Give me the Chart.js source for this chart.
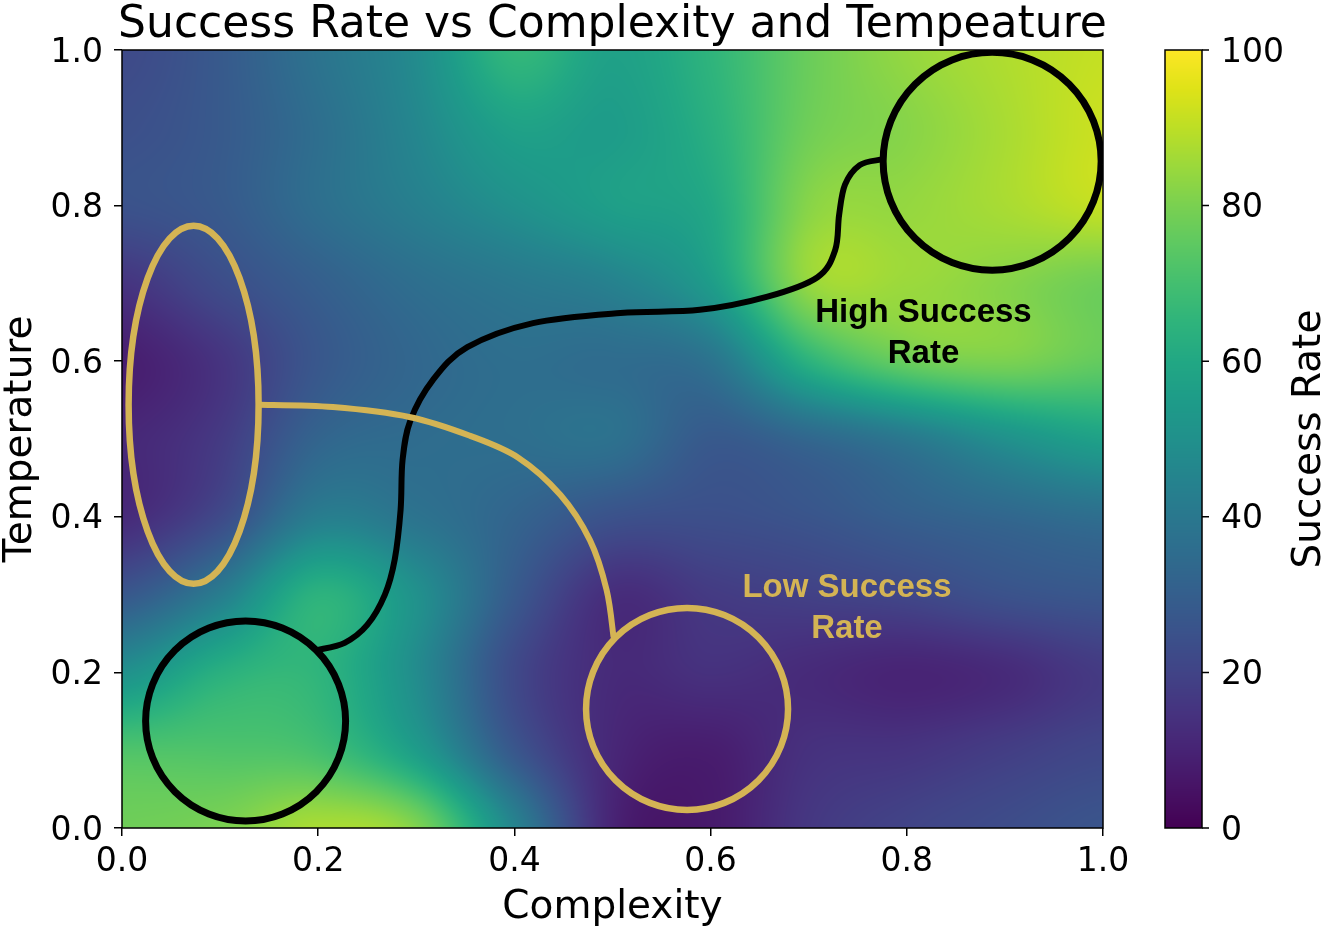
<!DOCTYPE html>
<html lang="en">
<head>
    <meta charset="UTF-8">
    <title>Success Rate vs Complexity and Tempeature</title>
    <script src="https://cdn.jsdelivr.net/npm/chart.js"></script>
    <style>
        html, body { margin: 0; padding: 0; background: #fff; }
        canvas { display: block; }
    </style>
</head>
<body>
    <canvas id="rateMap" width="1327" height="927"></canvas>

    <script>
        // grid of the measured field
        const complexity  = [0, 0.1, 0.2, 0.3, 0.4, 0.5, 0.6, 0.7, 0.8, 0.9, 1.0];
        const temperature = [0, 0.1, 0.2, 0.3, 0.4, 0.5, 0.6, 0.7, 0.8, 0.9, 1.0];
        // success rate (%), one row per temperature, lowest temperature first
        const successRate = [
            [78, 80, 87, 81, 45, 10,  7, 16, 20, 23, 26],
            [72, 72, 70, 55, 27, 11,  8, 14, 15, 18, 21],
            [50, 63, 65, 48, 22, 12, 14, 12, 10, 12, 17],
            [27, 42, 64, 50, 28, 13, 17, 19, 21, 25, 27],
            [12, 22, 42, 38, 32, 25, 24, 26, 30, 33, 36],
            [11, 17, 32, 35, 36, 37, 28, 33, 40, 50, 57],
            [ 8, 15, 27, 33, 36, 35, 38, 64, 77, 80, 76],
            [15, 23, 30, 36, 40, 44, 55, 84, 85, 82, 78],
            [25, 28, 36, 43, 50, 56, 60, 82, 84, 87, 91],
            [24, 28, 36, 46, 57, 55, 63, 78, 82, 87, 92],
            [22, 28, 38, 48, 66, 57, 65, 77, 84, 88, 91]
        ];
        const axisTicks = [0, 0.2, 0.4, 0.6, 0.8, 1.0];
        const rateTicks = [0, 20, 40, 60, 80, 100];

        // callout shapes, anchored in data units
        const blackRings = [{ x: 0.126, y: 0.1375, r: 100 }, { x: 0.887, y: 0.857, r: 109 }];
        const goldRings  = [{ x: 0.576, y: 0.153, rx: 101, ry: 101 }, { x: 0.073, y: 0.544, rx: 65, ry: 179 }];
        const blackPath = [
            [0.200, 0.229], [0.227, 0.238], [0.250, 0.261], [0.268, 0.300], [0.278, 0.345],
            [0.284, 0.409], [0.286, 0.473], [0.294, 0.524], [0.317, 0.576], [0.352, 0.618],
            [0.419, 0.649], [0.508, 0.662], [0.589, 0.666], [0.658, 0.683], [0.709, 0.708],
            [0.727, 0.743], [0.731, 0.788], [0.737, 0.827], [0.752, 0.852], [0.773, 0.859]
        ];
        const goldPath = [
            [0.140, 0.544], [0.215, 0.541], [0.294, 0.528], [0.355, 0.504], [0.404, 0.476],
            [0.447, 0.428], [0.477, 0.370], [0.494, 0.306], [0.501, 0.246]
        ];
        const labels = [
            { x: 0.817, y: 0.636, lines: ['High Success', 'Rate'], color: '#000000' },
            { x: 0.739, y: 0.282, lines: ['Low Success', 'Rate'], color: '#d4b454' }
        ];

        const GOLD = '#d4b454';
        const VIRIDIS = ['#440154', '#471365', '#482475', '#463480', '#414487', '#3b528b', '#355f8d',
            '#2f6c8e', '#2a788e', '#25848e', '#21918c', '#1e9c89', '#22a884', '#2fb47c', '#44bf70',
            '#5ec962', '#7ad151', '#9bd93c', '#bddf26', '#dfe318', '#fde725'].map(h => [
                parseInt(h.slice(1, 3), 16), parseInt(h.slice(3, 5), 16), parseInt(h.slice(5, 7), 16)]);

        function viridis(t) {
            t = Math.min(1, Math.max(0, t)) * (VIRIDIS.length - 1);
            const i = Math.min(VIRIDIS.length - 2, Math.floor(t)), f = t - i;
            const a = VIRIDIS[i], b = VIRIDIS[i + 1];
            return [a[0] + (b[0] - a[0]) * f, a[1] + (b[1] - a[1]) * f, a[2] + (b[2] - a[2]) * f];
        }

        function catmull(p0, p1, p2, p3, t) {
            return p1 + 0.5 * t * (p2 - p0 + t * (2 * p0 - 5 * p1 + 4 * p2 - p3 + t * (3 * (p1 - p2) + p3 - p0)));
        }

        function locate(arr, v) {
            let i = 0;
            while (i < arr.length - 2 && v > arr[i + 1]) i++;
            const t = Math.min(1, Math.max(0, (v - arr[i]) / (arr[i + 1] - arr[i])));
            return { i, t };
        }

        const clampIdx = (i, n) => Math.max(0, Math.min(n - 1, i));

        function sampleRate(cx, ty) {
            const fx = locate(complexity, cx), fy = locate(temperature, ty);
            const nx = complexity.length, ny = temperature.length;
            const r = [];
            for (let k = -1; k <= 2; k++) {
                const row = successRate[clampIdx(fy.i + k, ny)];
                r.push(catmull(row[clampIdx(fx.i - 1, nx)], row[fx.i], row[clampIdx(fx.i + 1, nx)],
                    row[clampIdx(fx.i + 2, nx)], fx.t));
            }
            return catmull(r[0], r[1], r[2], r[3], fy.t);
        }

        const heatmapPlugin = {
            id: 'heatmap',
            beforeDatasetsDraw(chart) {
                const { ctx, chartArea: a, scales: { x, y } } = chart;
                const left = Math.round(a.left), top = Math.round(a.top);
                const w = Math.round(a.right) - left, h = Math.round(a.bottom) - top;
                const img = ctx.createImageData(w, h);
                const xs = [];
                for (let px = 0; px < w; px++) xs.push(x.getValueForPixel(left + px + 0.5));
                for (let py = 0; py < h; py++) {
                    const ty = y.getValueForPixel(top + py + 0.5);
                    for (let px = 0; px < w; px++) {
                        const c = viridis(sampleRate(xs[px], ty) / 100);
                        const o = (py * w + px) * 4;
                        img.data[o] = c[0]; img.data[o + 1] = c[1]; img.data[o + 2] = c[2]; img.data[o + 3] = 255;
                    }
                }
                ctx.putImageData(img, left, top);
            }
        };

        function splinePath(ctx, pts) {
            ctx.beginPath();
            ctx.moveTo(pts[0][0], pts[0][1]);
            for (let i = 0; i < pts.length - 1; i++) {
                const p0 = pts[Math.max(0, i - 1)], p1 = pts[i], p2 = pts[i + 1], p3 = pts[Math.min(pts.length - 1, i + 2)];
                ctx.bezierCurveTo(p1[0] + (p2[0] - p0[0]) / 6, p1[1] + (p2[1] - p0[1]) / 6,
                    p2[0] - (p3[0] - p1[0]) / 6, p2[1] - (p3[1] - p1[1]) / 6, p2[0], p2[1]);
            }
            ctx.stroke();
        }

        const calloutPlugin = {
            id: 'callouts',
            afterDatasetsDraw(chart) {
                const { ctx, chartArea: a, scales: { x, y } } = chart;
                const toPx = p => [x.getPixelForValue(p[0]), y.getPixelForValue(p[1])];
                ctx.save();
                ctx.beginPath();
                ctx.rect(a.left, a.top, a.right - a.left, a.bottom - a.top);
                ctx.clip();
                ctx.lineCap = 'round';
                ctx.lineJoin = 'round';

                ctx.strokeStyle = '#000';
                ctx.lineWidth = 6;
                splinePath(ctx, blackPath.map(toPx));
                ctx.strokeStyle = GOLD;
                splinePath(ctx, goldPath.map(toPx));

                ctx.lineWidth = 7;
                ctx.strokeStyle = '#000';
                blackRings.forEach(c => {
                    ctx.beginPath();
                    ctx.arc(x.getPixelForValue(c.x), y.getPixelForValue(c.y), c.r, 0, Math.PI * 2);
                    ctx.stroke();
                });
                ctx.lineWidth = 6.5;
                ctx.strokeStyle = GOLD;
                goldRings.forEach(c => {
                    ctx.beginPath();
                    ctx.ellipse(x.getPixelForValue(c.x), y.getPixelForValue(c.y), c.rx, c.ry, 0, 0, Math.PI * 2);
                    ctx.stroke();
                });

                ctx.font = 'bold 33px "Liberation Sans", Arial, sans-serif';
                ctx.textAlign = 'center';
                ctx.textBaseline = 'middle';
                labels.forEach(l => {
                    ctx.fillStyle = l.color;
                    const cx = x.getPixelForValue(l.x), cy = y.getPixelForValue(l.y);
                    l.lines.forEach((s, i) => ctx.fillText(s, cx, cy + (i - (l.lines.length - 1) / 2) * 41));
                });
                ctx.restore();
            }
        };

        const framePlugin = {
            id: 'frame',
            afterDraw(chart) {
                const { ctx, chartArea: a, scales: { cb } } = chart;
                ctx.save();
                // plot frame
                ctx.strokeStyle = '#000';
                ctx.lineWidth = 1.5;
                ctx.strokeRect(a.left, a.top, a.right - a.left, a.bottom - a.top);

                // colour bar
                const barLeft = a.right + 62, barW = 37;
                const t = Math.round(cb.top), b = Math.round(cb.bottom);
                for (let py = t; py < b; py++) {
                    const c = viridis(cb.getValueForPixel(py + 0.5) / 100);
                    ctx.fillStyle = `rgb(${c[0] | 0},${c[1] | 0},${c[2] | 0})`;
                    ctx.fillRect(barLeft, py, barW, 1);
                }
                ctx.strokeRect(barLeft, cb.top, barW, cb.bottom - cb.top);
                ctx.beginPath();
                rateTicks.forEach(v => {
                    const py = cb.getPixelForValue(v);
                    ctx.moveTo(barLeft + barW, py);
                    ctx.lineTo(barLeft + barW + 7, py);
                });
                ctx.stroke();

                ctx.fillStyle = '#000';
                ctx.font = '39px "DejaVu Sans", sans-serif';
                ctx.textAlign = 'center';
                ctx.textBaseline = 'middle';
                ctx.translate(1310, (cb.top + cb.bottom) / 2);
                ctx.rotate(-Math.PI / 2);
                ctx.fillText('Success Rate', 0, 0);
                ctx.setTransform(1, 0, 0, 1, 0, 0);

                // chart title
                ctx.font = '44px "DejaVu Sans", sans-serif';
                ctx.textBaseline = 'alphabetic';
                ctx.fillText('Success Rate vs Complexity and Tempeature', (a.left + a.right) / 2, 37);
                ctx.restore();
            }
        };

        const tickFont = { family: 'DejaVu Sans', size: 33 };
        const titleFont = { family: 'DejaVu Sans', size: 39, lineHeight: 1 };
        const axisGrid = { display: true, drawOnChartArea: false, drawTicks: true, tickLength: 8, color: '#000', lineWidth: 1.5 };

        new Chart(document.getElementById('rateMap'), {
            type: 'scatter',
            data: {
                datasets: [{
                    data: temperature.flatMap((t, j) => complexity.map((c, i) => ({ x: c, y: t, v: successRate[j][i] }))),
                    pointRadius: 0
                }]
            },
            options: {
                responsive: false,
                devicePixelRatio: 1,
                animation: false,
                layout: { padding: { top: 50, left: 0, right: 0, bottom: 0 } },
                plugins: { legend: { display: false }, tooltip: { enabled: false } },
                scales: {
                    x: {
                        type: 'linear', min: 0, max: 1,
                        afterBuildTicks: s => { s.ticks = axisTicks.map(v => ({ value: v })); },
                        afterFit: s => { s.height = 99; },
                        grid: axisGrid,
                        border: { display: false },
                        ticks: { font: tickFont, color: '#000', padding: 7, maxRotation: 0, callback: v => v.toFixed(1) },
                        title: { display: true, text: 'Complexity', font: titleFont, color: '#000', padding: { top: 3, bottom: 0 } }
                    },
                    y: {
                        type: 'linear', min: 0, max: 1,
                        afterBuildTicks: s => { s.ticks = axisTicks.map(v => ({ value: v })); },
                        afterFit: s => { s.width = 122; },
                        grid: axisGrid,
                        border: { display: false },
                        ticks: { font: tickFont, color: '#000', padding: 11, labelOffset: 3, callback: v => v.toFixed(1) },
                        title: { display: true, text: 'Temperature', font: titleFont, color: '#000', padding: { top: 1, bottom: 0 } }
                    },
                    cb: {
                        type: 'linear', position: 'right', min: 0, max: 100, display: true,
                        afterBuildTicks: s => { s.ticks = rateTicks.map(v => ({ value: v })); },
                        afterFit: s => { s.width = 224; },
                        // long invisible tick marks push the labels past the colour bar
                        grid: { display: false, drawTicks: true, tickLength: 110 },
                        border: { display: false },
                        ticks: { font: tickFont, color: '#000', padding: 8, labelOffset: 3 }
                    }
                }
            },
            plugins: [heatmapPlugin, calloutPlugin, framePlugin]
        });
    </script>
</body>
</html>
